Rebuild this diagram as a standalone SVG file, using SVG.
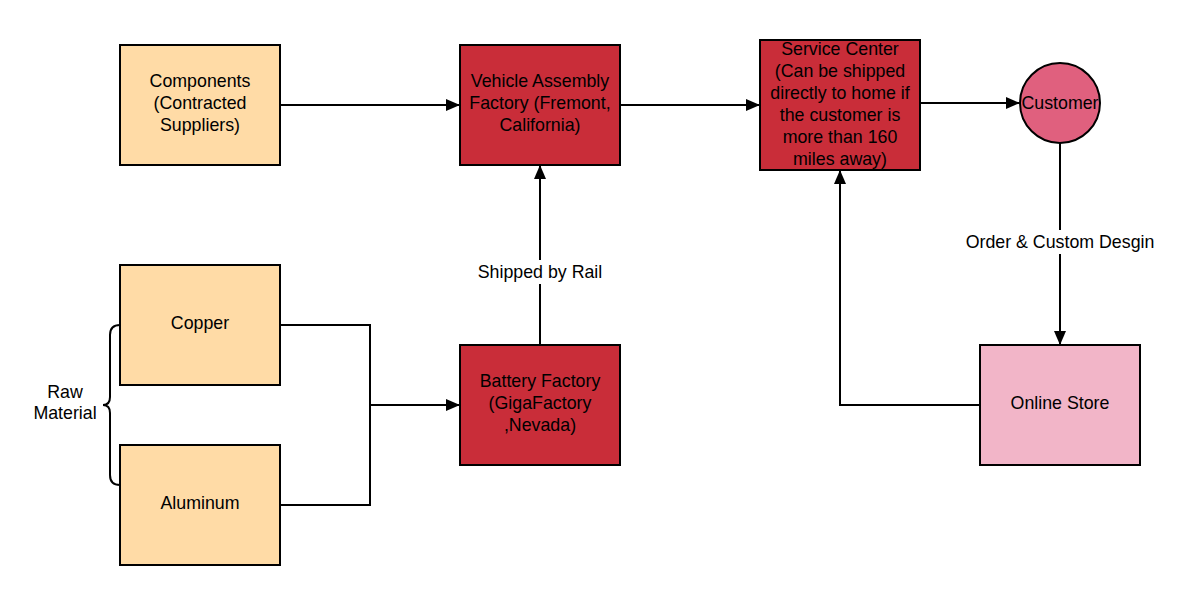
<svg xmlns="http://www.w3.org/2000/svg" width="1195" height="605" viewBox="0 0 1195 605">
<style>
text{font-family:"Liberation Sans",Arial,sans-serif;font-size:17.8px;fill:#000;text-anchor:middle}
.b{stroke:#000;stroke-width:2}
.o{fill:#FFDBA6}
.r{fill:#C92D39}
.c{fill:none;stroke:#000;stroke-width:2}
</style>
<defs>
<marker id="a" markerWidth="14" markerHeight="12" refX="14" refY="6" orient="auto" markerUnits="userSpaceOnUse">
<path d="M0,0 L14,6 L0,12 Z" fill="#000"/>
</marker>
</defs>
<rect width="1195" height="605" fill="#fff"/>
<g id="connectors">
<path class="c" d="M280,105 H460" marker-end="url(#a)"/>
<path class="c" d="M620,105 H760" marker-end="url(#a)"/>
<path class="c" d="M920,103 H1020" marker-end="url(#a)"/>
<path class="c" d="M1060,143 V345" marker-end="url(#a)"/>
<path class="c" d="M980,405 H840 V170" marker-end="url(#a)"/>
<path class="c" d="M540,345 V165" marker-end="url(#a)"/>
<path class="c" d="M280,325 H370 V505 H280"/>
<path class="c" d="M370,405 H460" marker-end="url(#a)"/>
<rect x="470" y="260" width="140" height="24" fill="#fff"/>
<text x="540" y="278">Shipped by Rail</text>
<rect x="960" y="230" width="200" height="24" fill="#fff"/>
<text x="1060" y="248">Order &amp; Custom Desgin</text>
<path class="c" d="M120,325 Q110,325 110,335 V397 Q110,405 103,405 Q110,405 110,413 V475 Q110,485 120,485"/>
<text x="65" y="398">Raw</text>
<text x="65" y="419">Material</text>
</g>
<g id="components"><rect class="b o" x="120" y="45" width="160" height="120"/>
<text x="200" y="87">Components</text><text x="200" y="109">(Contracted</text><text x="200" y="131">Suppliers)</text></g>
<g id="vehicle"><rect class="b r" x="460" y="45" width="160" height="120"/>
<text x="540" y="87">Vehicle Assembly</text><text x="540" y="109">Factory (Fremont,</text><text x="540" y="131">California)</text></g>
<g id="service"><rect class="b r" x="760" y="40" width="160" height="130"/>
<text x="840" y="55">Service Center</text><text x="840" y="77">(Can be shipped</text><text x="840" y="99">directly to home if</text><text x="840" y="121">the customer is</text><text x="840" y="143">more than 160</text><text x="840" y="165">miles away)</text></g>
<g id="customer"><circle class="b" cx="1060" cy="103" r="40" fill="#E0607E"/>
<text x="1060" y="109">Customer</text></g>
<g id="copper"><rect class="b o" x="120" y="265" width="160" height="120"/>
<text x="200" y="329">Copper</text></g>
<g id="aluminum"><rect class="b o" x="120" y="445" width="160" height="120"/>
<text x="200" y="509">Aluminum</text></g>
<g id="battery"><rect class="b r" x="460" y="345" width="160" height="120"/>
<text x="540" y="387">Battery Factory</text><text x="540" y="409">(GigaFactory</text><text x="540" y="431">,Nevada)</text></g>
<g id="store"><rect class="b" x="980" y="345" width="160" height="120" fill="#F2B5C8"/>
<text x="1060" y="409">Online Store</text></g>
</svg>
